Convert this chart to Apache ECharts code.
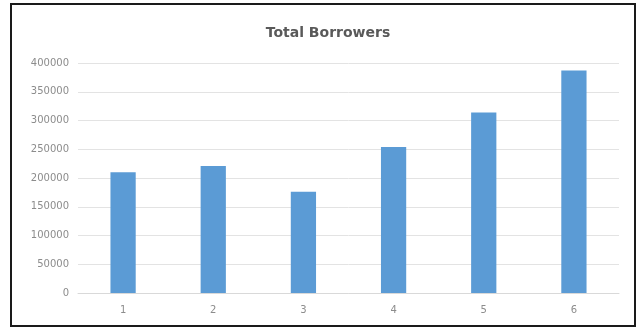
<!DOCTYPE html>
<html>
<head>
<meta charset="utf-8">
<script src="https://cdn.jsdelivr.net/npm/echarts@6/dist/echarts.min.js"></script>
<style>
html,body{margin:0;padding:0;background:#fff;}
#chart{width:639px;height:329px;}
</style>
</head>
<body>
<div id="chart"></div>
<script>
const titleText = "Total Borrowers";
const categories = ["1", "2", "3", "4", "5", "6"];
const borrowers = [210000, 221000, 176000, 254000, 314000, 387000];
const yTicks = { min: 0, max: 400000, interval: 50000 };

const chart = echarts.init(document.getElementById('chart'), null, { renderer: 'canvas' });
chart.setOption({
  animation: false,
  backgroundColor: '#ffffff',
  title: {
    text: titleText,
    left: 323,
    textAlign: 'center',
    top: 21,
    textStyle: { fontFamily: 'DejaVu Sans', fontWeight: 'bold', fontSize: 14, color: '#595959' }
  },
  graphic: [{
    type: 'rect',
    shape: { x: 11, y: 4, width: 624, height: 322 },
    style: { fill: 'none', stroke: '#1a1a1a', lineWidth: 2 },
    silent: true
  }],
  grid: { left: 78, right: 20, top: 63, bottom: 36, containLabel: false },
  xAxis: {
    type: 'category',
    data: categories,
    axisLine: { lineStyle: { color: '#d9d9d9' } },
    axisTick: { show: false },
    axisLabel: { fontFamily: 'DejaVu Sans', fontSize: 10, color: '#8c8c8c', margin: 12 }
  },
  yAxis: {
    type: 'value',
    min: yTicks.min,
    max: yTicks.max,
    interval: yTicks.interval,
    axisLine: { show: false },
    axisTick: { show: false },
    splitLine: { lineStyle: { color: '#e3e3e3' } },
    axisLabel: {
      fontFamily: 'DejaVu Sans', fontSize: 10, color: '#8c8c8c', margin: 9,
      formatter: function (v) { return String(v); }
    }
  },
  series: [{
    type: 'bar',
    data: borrowers,
    barWidth: '28%',
    itemStyle: { color: '#5b9bd5' }
  }]
});
</script>
</body>
</html>
